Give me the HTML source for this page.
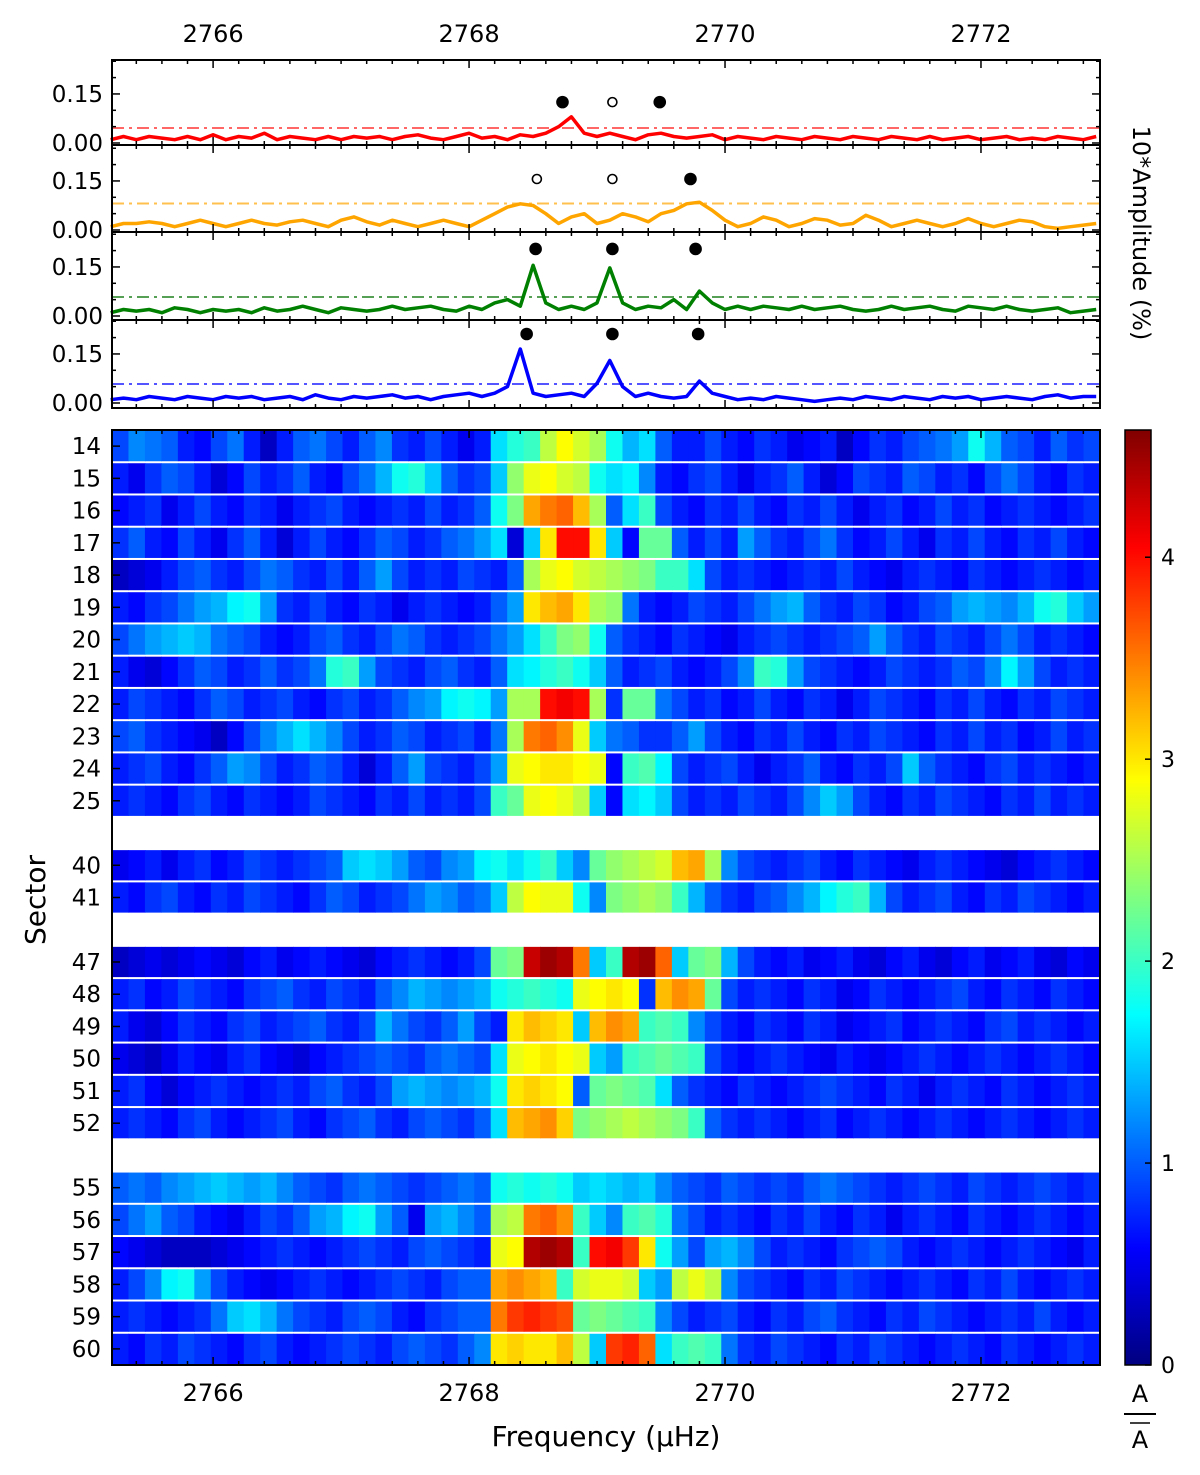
<!DOCTYPE html>
<html><head><meta charset="utf-8"><style>
html,body{margin:0;padding:0;background:#fff;}
svg{display:block;font-family:"DejaVu Sans","Liberation Sans",sans-serif;}
</style></head><body>
<svg id="chart" width="1200" height="1475" viewBox="0 0 1200 1475" xmlns="http://www.w3.org/2000/svg">
<defs>
<linearGradient id="jetGrad" x1="0" y1="1" x2="0" y2="0">
<stop offset="0" stop-color="#000080"/><stop offset="0.125" stop-color="#0000ff"/>
<stop offset="0.375" stop-color="#00ffff"/><stop offset="0.625" stop-color="#ffff00"/><stop offset="0.875" stop-color="#ff0000"/><stop offset="1" stop-color="#800000"/>
</linearGradient>
</defs>
<g id="layer"></g>
</svg>
<script>
// ---- data ----
const freqGrid = [];
for (let i = 0; i < 78; i++) freqGrid.push(+(2765.2 + 0.1 * i).toFixed(2));
const ampRed = [.01,.02,.01,.02,.015,.01,.02,.01,.025,.01, .02,.015,.03,.01,.02,.015,.01,.02,.01,.02, .015,.02,.01,.02,.025,.015,.01,.02,.03,.015, .02,.01,.025,.02,.03,.05,.08,.03,.02,.03, .02,.01,.025,.03,.02,.015,.02,.025,.01,.02, .015,.01,.02,.015,.01,.02,.015,.01,.02,.015, .01,.02,.015,.01,.02,.01,.015,.02,.01,.015, .02,.01,.015,.01,.02,.015,.01,.02];
const ampOrange = [.01,.02,.02,.025,.02,.01,.02,.03,.02,.01, .02,.03,.02,.015,.025,.03,.02,.01,.03,.04, .025,.015,.03,.02,.01,.02,.03,.02,.01,.03, .05,.07,.08,.075,.05,.02,.04,.05,.02,.03, .05,.04,.025,.05,.06,.08,.085,.06,.03,.01, .02,.04,.03,.01,.02,.035,.03,.015,.02,.045, .03,.01,.02,.03,.02,.01,.02,.035,.02,.01, .02,.03,.025,.01,.005,.01,.015,.02];
const ampGreen = [.01,.02,.015,.02,.01,.025,.02,.01,.02,.015, .02,.01,.025,.015,.02,.03,.02,.01,.025,.02, .015,.02,.03,.02,.025,.03,.02,.015,.03,.02, .04,.05,.03,.155,.04,.02,.03,.02,.04,.147, .04,.02,.03,.025,.05,.02,.076,.04,.02,.03, .02,.03,.025,.02,.03,.02,.025,.03,.02,.015, .02,.03,.02,.025,.03,.02,.015,.03,.025,.02, .03,.02,.015,.02,.025,.01,.015,.02];
const ampBlue = [.01,.015,.01,.02,.015,.01,.02,.015,.01,.02, .015,.02,.01,.015,.02,.01,.025,.015,.01,.02, .015,.02,.025,.015,.02,.01,.02,.025,.03,.02, .03,.05,.165,.03,.02,.025,.03,.02,.06,.13, .05,.02,.03,.02,.015,.02,.067,.03,.02,.01, .015,.01,.02,.015,.01,.005,.01,.015,.01,.02, .015,.01,.02,.015,.01,.02,.015,.02,.01,.015, .02,.015,.01,.02,.025,.015,.02,.02];
const thresholds = [0.046, 0.081, 0.058, 0.058];
const markerFreqs = [[2768.73,2769.12,2769.49],[2768.53,2769.12,2769.73],[2768.52,2769.12,2769.77],[2768.45,2769.12,2769.79]];
const markerFilled = [[1,0,1],[0,0,1],[1,1,1],[1,1,1]];
const markerHeights = [0.125, 0.156, 0.205, 0.211];
const xTicks = [2766, 2768, 2770, 2772];
const yTickLabels = ["0.00", "0.15"];
const cbTicks = [0, 1, 2, 3, 4];
const sectors = [14,15,16,17,18,19,20,21,22,23,24,25,40,41,47,48,49,50,51,52,55,56,57,58,59,60];
const sectorSlots = [0,1,2,3,4,5,6,7,8,9,10,11,13,14,16,17,18,19,20,21,23,24,25,26,27,28];
const heat = [
[0.9,1.2,1.1,1.0,0.7,0.6,0.9,1.1,0.7,0.3,0.7,1.0,1.1,0.9,0.7,1.0,1.2,0.8,0.7,0.9,0.7,0.5,0.7,1.6,1.9,2.0,2.6,2.9,2.7,2.5,1.8,1.4,1.6,1.0,0.7,0.7,0.9,0.7,0.6,0.8,0.7,0.5,0.6,0.7,0.3,0.6,0.8,0.7,0.9,1.0,1.1,1.3,1.8,1.4,1.0,0.9,0.7,1.0,0.8,0.9],
[0.7,0.5,0.8,1.0,0.9,0.7,0.4,0.6,0.9,0.7,0.8,1.0,0.7,0.6,0.9,1.1,1.4,1.8,1.9,1.5,1.0,0.8,0.9,1.5,2.4,2.8,2.9,2.7,2.6,1.8,1.6,1.7,1.2,0.7,0.6,0.8,0.9,0.7,0.5,0.7,0.8,1.0,0.7,0.4,0.6,0.9,0.8,0.7,1.0,0.9,0.7,0.8,0.6,0.9,1.1,0.9,0.7,0.6,0.8,0.7],
[0.6,0.7,0.8,0.5,0.7,0.9,0.7,0.6,0.8,0.7,0.5,0.7,0.8,0.9,0.7,0.6,0.7,0.8,0.7,0.9,0.7,0.8,1.0,1.8,2.3,3.3,3.5,3.6,3.2,2.5,1.0,1.6,2.0,0.9,0.7,0.6,0.8,0.7,0.9,0.7,0.6,0.8,0.7,0.9,0.7,0.5,0.7,0.8,0.6,0.7,0.9,0.7,0.8,0.6,0.7,0.8,0.7,0.6,0.7,0.8],
[0.8,1.0,0.7,0.6,0.9,0.7,0.5,0.8,1.0,0.7,0.4,0.7,0.9,0.7,0.6,0.8,1.0,0.9,0.7,0.8,1.0,1.1,1.3,1.6,0.4,1.5,3.0,4.0,4.0,3.0,1.5,0.6,2.2,2.2,1.0,0.7,0.9,0.7,1.3,1.0,0.8,0.7,0.9,1.1,0.8,0.6,0.7,0.9,0.7,0.5,0.8,0.7,0.9,0.7,0.6,0.8,0.7,0.9,0.7,0.6],
[0.3,0.4,0.5,0.7,0.9,1.0,0.8,0.7,0.9,1.1,1.0,0.8,0.7,0.9,0.7,1.0,1.3,0.9,0.7,0.8,0.7,0.9,0.8,0.7,1.0,2.5,2.8,2.9,2.7,2.6,2.5,2.4,2.3,2.0,2.0,1.6,0.9,0.7,0.8,0.7,0.6,0.7,0.8,0.7,0.9,0.7,0.6,0.5,0.7,0.8,0.7,0.6,0.8,0.7,0.6,0.7,0.8,0.7,0.6,0.7],
[0.7,0.6,0.8,0.9,1.1,1.3,1.4,1.7,1.8,1.3,0.8,0.7,0.9,0.7,0.6,0.8,0.7,0.5,0.7,0.8,0.7,0.6,0.7,1.0,1.3,3.0,3.2,3.3,3.0,2.5,2.4,1.1,0.7,0.6,0.7,0.9,0.8,0.7,0.9,1.1,1.3,1.4,1.0,0.8,0.7,0.9,0.8,0.6,0.7,0.9,1.0,1.3,1.4,1.3,1.2,1.4,1.8,1.9,1.5,1.3],
[0.9,1.1,1.3,1.4,1.5,1.4,1.1,1.0,0.9,0.7,0.6,0.7,0.9,1.0,0.8,0.7,0.9,1.1,1.0,0.8,0.7,0.8,0.9,1.1,1.3,1.6,2.0,2.3,2.4,1.8,1.0,0.8,0.7,0.6,0.8,0.7,0.6,0.5,0.7,0.8,0.9,0.8,0.7,0.8,0.9,1.0,1.3,1.0,0.8,0.7,0.9,0.8,0.7,0.9,1.1,0.9,0.7,0.8,0.7,0.6],
[0.7,0.5,0.4,0.6,0.8,1.0,0.9,0.7,0.8,1.0,0.8,0.9,1.1,1.9,2.0,1.3,0.9,0.8,0.7,0.9,1.0,0.8,0.7,1.0,1.6,1.7,1.9,2.0,1.8,1.5,1.0,0.7,0.8,0.9,0.7,0.6,0.7,0.9,1.2,2.0,1.9,1.3,0.9,0.8,0.7,0.6,0.7,0.9,0.8,0.7,0.8,1.0,0.9,1.2,1.7,1.3,0.9,0.7,0.8,0.7],
[0.7,0.9,0.8,0.7,0.6,0.8,1.0,0.9,0.7,0.8,0.9,0.7,0.6,0.8,0.9,0.7,0.8,1.0,1.2,1.3,1.7,1.8,1.7,1.3,2.5,2.5,4.0,4.1,4.0,2.5,0.8,2.2,2.2,1.1,0.9,0.7,0.8,0.6,0.7,0.9,0.7,0.6,0.8,0.7,0.5,0.7,0.9,0.8,0.7,0.6,0.8,0.7,0.9,0.7,0.6,0.8,0.7,0.9,0.8,0.7],
[0.9,1.0,0.8,0.7,0.6,0.5,0.3,0.6,0.9,1.2,1.4,1.6,1.4,1.2,0.9,0.7,0.8,1.0,0.9,0.7,0.8,0.9,0.7,1.1,2.5,3.5,3.6,3.4,2.8,1.5,1.1,1.0,0.8,0.8,1.0,1.3,0.9,0.7,0.6,0.8,0.7,0.9,0.7,0.6,0.8,0.7,0.9,0.8,0.7,0.6,0.8,0.7,0.9,0.7,0.8,0.6,0.7,0.9,0.7,0.8],
[0.7,0.8,0.9,0.7,0.6,0.8,1.0,1.3,1.2,0.9,0.7,0.8,1.0,0.9,0.7,0.4,0.7,1.0,1.3,0.9,0.8,0.7,0.9,1.3,2.8,2.9,3.0,3.0,2.9,2.8,0.6,2.0,2.1,1.7,0.9,0.7,0.8,0.9,0.7,0.5,0.7,0.8,1.0,0.7,0.6,0.8,0.7,0.9,1.5,1.0,0.8,0.7,0.6,0.8,0.9,0.7,0.8,0.7,0.6,0.7],
[0.7,0.8,0.7,0.6,0.8,0.9,0.7,0.6,0.8,0.7,0.6,0.7,0.9,0.8,0.7,0.6,0.8,0.7,0.9,0.7,0.8,0.7,0.9,2.0,2.2,2.8,2.9,2.8,2.6,1.5,0.6,1.6,1.7,1.5,0.9,0.7,0.8,0.7,0.9,0.8,0.7,0.9,1.2,1.5,1.3,0.9,0.7,0.6,0.8,0.7,0.9,0.8,0.7,0.6,0.8,0.7,0.9,0.7,0.8,0.7],
[0.5,0.6,0.7,0.5,0.7,0.8,0.6,0.7,0.9,0.8,0.7,0.8,0.9,1.0,1.5,1.6,1.5,1.3,1.0,0.9,1.2,1.3,1.7,1.8,1.6,1.8,2.0,1.5,1.2,2.2,2.4,2.5,2.6,2.7,3.2,3.3,2.5,1.2,0.9,0.8,0.7,0.8,0.9,0.7,0.6,0.8,0.7,0.6,0.5,0.7,0.8,0.7,0.6,0.5,0.4,0.6,0.7,0.8,0.7,0.6],
[0.7,0.6,0.8,0.9,0.7,0.6,0.8,0.7,0.9,0.8,0.7,0.6,0.8,1.0,0.9,0.7,0.8,0.9,1.1,1.3,1.2,1.0,1.1,1.5,2.6,2.9,2.8,2.8,1.8,1.2,2.3,2.4,2.5,2.4,2.0,1.4,1.0,0.8,0.7,0.9,1.0,1.2,1.4,1.7,1.9,2.0,1.4,0.9,0.7,0.8,0.9,0.7,0.6,0.8,0.7,0.9,0.8,0.7,0.6,0.7],
[0.3,0.4,0.5,0.4,0.5,0.6,0.5,0.4,0.6,0.7,0.5,0.6,0.7,0.6,0.5,0.4,0.6,0.7,0.8,0.7,0.6,0.7,0.9,2.2,2.3,4.3,4.5,4.4,3.5,1.5,2.0,4.4,4.5,3.6,1.5,2.2,2.3,1.4,0.9,0.7,0.6,0.7,0.5,0.6,0.7,0.5,0.4,0.6,0.7,0.5,0.4,0.6,0.7,0.5,0.6,0.7,0.5,0.4,0.6,0.5],
[0.7,0.8,0.6,0.7,0.9,0.8,0.7,0.6,0.8,0.9,1.0,0.8,0.7,0.9,0.8,0.7,1.0,1.2,1.4,1.3,1.2,1.3,1.4,1.8,1.9,2.0,1.9,1.8,2.8,2.9,3.0,2.9,0.8,3.2,3.4,3.3,2.2,0.9,0.7,0.8,0.7,0.6,0.8,0.7,0.5,0.6,0.8,0.7,0.6,0.7,0.8,0.9,0.7,0.6,0.8,0.7,0.6,0.8,0.7,0.6],
[0.7,0.5,0.4,0.6,0.8,0.7,0.6,0.8,0.9,0.7,0.8,0.9,1.0,0.8,0.7,0.9,1.4,1.1,0.9,0.8,1.0,1.3,0.9,0.7,3.0,3.2,3.1,3.0,1.5,3.2,3.4,3.3,2.0,2.1,2.0,1.2,0.9,0.7,0.6,0.8,0.7,0.6,0.8,0.7,0.5,0.6,0.7,0.8,0.6,0.7,0.8,0.7,0.6,0.8,0.9,0.7,0.8,0.7,0.6,0.7],
[0.5,0.4,0.3,0.5,0.7,0.6,0.5,0.7,0.8,0.6,0.5,0.4,0.6,0.7,0.8,0.9,1.0,0.9,0.8,1.0,1.1,1.0,0.9,1.6,2.8,2.9,3.0,2.9,2.8,1.5,1.3,2.0,2.1,2.2,2.1,2.0,0.9,0.7,0.6,0.7,0.8,0.7,0.6,0.5,0.7,0.6,0.5,0.6,0.7,0.8,0.7,0.6,0.7,0.8,0.7,0.6,0.7,0.8,0.7,0.6],
[0.7,0.8,0.6,0.4,0.6,0.7,0.8,0.7,0.6,0.7,0.8,0.7,0.9,1.0,0.8,0.7,0.9,1.3,1.4,1.3,1.2,1.3,1.4,1.8,3.0,3.1,3.0,2.9,1.0,2.2,2.3,2.2,2.1,1.6,1.0,0.8,0.7,0.6,0.8,0.7,0.6,0.7,0.8,0.9,0.8,0.7,0.6,0.8,0.7,0.5,0.7,0.8,0.7,0.6,0.8,0.7,0.6,0.7,0.8,0.7],
[0.7,0.8,0.7,0.6,0.8,0.9,0.7,0.6,0.7,0.8,0.9,0.7,0.6,0.8,0.9,1.0,0.8,0.7,0.9,1.0,0.9,0.8,1.0,1.6,3.2,3.3,3.4,3.1,2.3,2.4,2.5,2.6,2.5,2.4,2.3,2.0,1.0,0.8,0.7,0.8,0.7,0.6,0.7,0.8,0.6,0.7,0.8,0.7,0.6,0.7,0.8,0.7,0.6,0.7,0.8,0.7,0.6,0.7,0.8,0.7],
[1.0,1.1,1.0,1.2,1.3,1.4,1.5,1.4,1.3,1.4,1.2,1.0,0.9,0.8,1.0,1.1,1.0,0.9,0.8,0.9,1.0,1.1,1.0,1.8,1.9,1.8,1.9,1.8,1.5,1.6,1.5,1.4,1.5,1.2,1.0,0.9,0.8,1.0,0.9,0.8,0.9,0.8,1.0,1.1,1.0,0.9,0.8,0.7,0.8,0.9,0.8,0.7,0.9,0.8,0.7,0.8,0.9,0.8,0.7,0.8],
[0.9,1.1,1.3,1.0,0.9,0.7,0.6,0.5,0.7,0.9,0.8,1.0,1.3,1.4,1.7,1.8,1.3,1.0,0.5,1.3,1.4,1.2,1.0,2.5,2.6,3.5,3.6,3.4,2.0,1.5,1.2,2.0,2.1,1.9,1.1,0.9,0.7,0.8,0.7,0.6,0.8,0.7,0.9,0.7,0.6,0.8,0.7,0.5,0.7,0.8,0.7,0.6,0.8,0.7,0.6,0.7,0.8,0.7,0.6,0.7],
[0.6,0.5,0.4,0.3,0.3,0.3,0.4,0.5,0.6,0.7,0.8,0.7,0.6,0.7,0.8,0.9,0.8,0.7,0.9,1.0,0.9,0.8,0.7,2.8,2.9,4.4,4.5,4.4,2.0,4.0,4.1,3.8,3.0,1.8,1.3,0.9,1.3,1.4,1.2,0.9,0.7,0.8,0.7,0.6,0.8,0.9,1.0,0.9,0.7,0.6,0.7,0.8,0.7,0.6,0.7,0.8,0.7,0.6,0.5,0.7],
[0.7,0.9,1.2,1.7,1.8,1.3,0.9,0.7,0.6,0.5,0.6,0.7,0.8,0.7,0.6,0.7,0.8,0.9,0.8,0.7,0.9,1.0,1.0,3.3,3.4,3.3,3.2,2.0,2.7,2.8,2.8,2.7,1.5,1.3,2.6,2.8,2.6,1.2,0.9,0.8,0.7,0.6,0.8,0.7,0.9,0.8,0.7,0.6,0.7,0.8,0.7,0.6,0.8,0.7,0.9,0.7,0.6,0.7,0.8,0.7],
[0.7,0.8,0.7,0.6,0.7,0.8,1.1,1.5,1.6,1.4,1.1,0.9,0.8,0.7,0.9,1.0,0.9,0.7,0.6,0.8,0.9,1.0,1.0,3.5,3.8,3.9,3.8,3.7,2.2,2.3,2.2,2.1,2.0,1.2,0.9,0.7,0.8,0.9,0.7,0.6,0.8,0.7,0.9,1.0,0.8,0.7,0.6,0.8,0.7,0.9,0.8,0.7,0.6,0.7,0.8,0.7,0.9,0.7,0.6,0.7],
[0.7,0.6,0.8,0.7,0.9,0.8,0.7,0.6,0.8,0.9,0.7,0.6,0.7,0.8,0.9,0.8,0.7,0.9,1.0,0.9,0.8,1.0,1.2,3.0,3.1,3.0,3.0,3.2,2.6,1.5,3.8,3.9,3.6,1.6,2.0,2.1,2.0,1.1,0.8,0.7,0.9,0.8,0.7,0.6,0.8,0.7,0.9,0.8,0.7,0.6,0.7,0.8,0.7,0.6,0.8,0.7,0.6,0.7,0.8,0.7]
];

// ---- geometry ----
const NS = "http://www.w3.org/2000/svg";
const layer = document.getElementById("layer");
const X0 = 112, X1 = 1100, F0 = 2765.21, F1 = 2772.93;
const xPix = f => X0 + (f - F0) / (F1 - F0) * (X1 - X0);
const panels = [
  {top:60, bot:145, y0:143, color:"#ff0000", thr:"#ff6666", name:"red"},
  {top:145, bot:232, y0:230, color:"#ffa500", thr:"#ffc04d", name:"orange"},
  {top:232, bot:320, y0:316, color:"#008000", thr:"#55a055", name:"green"},
  {top:320, bot:408, y0:403, color:"#0000ff", thr:"#5555ff", name:"blue"}
];
const series = [ampRed, ampOrange, ampGreen, ampBlue];
const YS = 327;
const HM_TOP = 430, HM_BOT = 1365, SLOTS = 29;
const CB_X = 1125, CB_W = 26, CB_MAX = 4.63;

function mk(tag, attrs, parent) {
  const e = document.createElementNS(NS, tag);
  for (const k in attrs) e.setAttribute(k, attrs[k]);
  (parent || layer).appendChild(e);
  return e;
}
function txt(s, x, y, size, anchor, parent) {
  const t = mk("text", {x:x, y:y, "font-size":size, "text-anchor":anchor || "middle", fill:"#000"}, parent);
  t.textContent = s;
  return t;
}
function jet(v) {
  let t = Math.max(0, Math.min(1, v / CB_MAX));
  const c = x => Math.max(0, Math.min(1, x));
  const r = c(1.5 - Math.abs(4 * t - 3)), g = c(1.5 - Math.abs(4 * t - 2)), b = c(1.5 - Math.abs(4 * t - 1));
  return "rgb(" + Math.round(r*255) + "," + Math.round(g*255) + "," + Math.round(b*255) + ")";
}

// ---- top panels ----
panels.forEach((p, k) => {
  const g = mk("g", {});
  
  
  const yv = v => p.y0 - v * YS;
  const th = mk("line", {x1:X0, x2:X1, y1:yv(thresholds[k]), y2:yv(thresholds[k]), stroke:p.thr, "stroke-width":2, "stroke-dasharray":"12,5,3,5"}, g);
  
  
  const pts = series[k].map((v, i) => xPix(freqGrid[i]).toFixed(1) + "," + yv(v).toFixed(1)).join(" ");
  const pl = mk("polyline", {points:pts, fill:"none", stroke:p.color, "stroke-width":3.5, "stroke-linejoin":"round"}, g);
  
  
  markerFreqs[k].forEach((f, j) => {
    const m = mk("circle", {cx:xPix(f), cy:yv(markerHeights[k]), r: markerFilled[k][j] ? 5.5 : 4.5,
      fill: markerFilled[k][j] ? "#000" : "#fff", stroke:"#000", "stroke-width":1.6}, g);
    
    
  });
  mk("rect", {x:X0, y:p.top, width:X1 - X0, height:p.bot - p.top, fill:"none", stroke:"#000", "stroke-width":2}, g);
  for (let f = 2765.4; f < F1; f += 0.2) {
    const fr = Math.round(f * 10) / 10;
    const major = Math.abs(fr / 2 - Math.round(fr / 2)) < 1e-6;
    const L = major ? 8 : 4;
    mk("line", {x1:xPix(fr), x2:xPix(fr), y1:p.top, y2:p.top + L, stroke:"#000", "stroke-width":1.5}, g);
    mk("line", {x1:xPix(fr), x2:xPix(fr), y1:p.bot, y2:p.bot - L, stroke:"#000", "stroke-width":1.5}, g);
  }
  for (let v = 0; v <= 0.25; v += 0.05) {
    const y = yv(v);
    if (y < p.top + 1) break;
    const major = (Math.round(v * 100) % 15 === 0);
    mk("line", {x1:X0, x2:X0 + (major ? 8 : 4), y1:y, y2:y, stroke:"#000", "stroke-width":1.5}, g);
    mk("line", {x1:X1, x2:X1 - (major ? 8 : 4), y1:y, y2:y, stroke:"#000", "stroke-width":1.5}, g);
  }
  yTickLabels.forEach(s => txt(s, 103, yv(parseFloat(s)) + 8, 23, "end", g));
});
xTicks.forEach(f => {
  const t = txt(String(f), xPix(f), 42, 24);
  
  
});
{
  const t = txt("10*Amplitude (%)", 0, 0, 24);
  t.setAttribute("transform", "translate(1133,233) rotate(90)");
  
  
}

// ---- heatmap ----
const hm = mk("g", {});


const slotH = (HM_BOT - HM_TOP) / SLOTS;
const nCol = heat[0].length;
const colW = (X1 - X0) / nCol;
heat.forEach((row, r) => {
  const yTop = HM_TOP + sectorSlots[r] * slotH;
  row.forEach((v, c) => {
    const cell = mk("rect", {x:(X0 + c * colW).toFixed(2), y:(yTop + 1).toFixed(2), width:(colW + 0.6).toFixed(2), height:(slotH - 2).toFixed(2), fill:jet(v)}, hm);
    
    
  });
  const lab = txt(String(sectors[r]), 101, yTop + slotH / 2 + 8, 23, "end", hm);
  
  
  mk("line", {x1:X0, x2:X0 + 8, y1:yTop + slotH / 2, y2:yTop + slotH / 2, stroke:"#000", "stroke-width":1.5}, hm);
});
mk("rect", {x:X0, y:HM_TOP, width:X1 - X0, height:HM_BOT - HM_TOP, fill:"none", stroke:"#000", "stroke-width":2}, hm);
for (let f = 2765.4; f < F1; f += 0.2) {
  const fr = Math.round(f * 10) / 10;
  const major = Math.abs(fr / 2 - Math.round(fr / 2)) < 1e-6;
  const L = major ? 8 : 4;
  mk("line", {x1:xPix(fr), x2:xPix(fr), y1:HM_BOT, y2:HM_BOT - L, stroke:"#000", "stroke-width":1.5}, hm);
  mk("line", {x1:xPix(fr), x2:xPix(fr), y1:HM_TOP, y2:HM_TOP + L, stroke:"#000", "stroke-width":1.5}, hm);
}
xTicks.forEach(f => {
  const t = txt(String(f), xPix(f), 1401, 24);
  
  
});
{
  const t = txt("Frequency (\u00B5Hz)", 606, 1446, 28);
  
  
  const s = txt("Sector", 0, 0, 28);
  s.setAttribute("transform", "translate(45,900) rotate(-90)");
  
  
}

// ---- colorbar ----
const cb = mk("g", {});


mk("rect", {x:CB_X, y:HM_TOP, width:CB_W, height:HM_BOT - HM_TOP, fill:"url(#jetGrad)", stroke:"#000", "stroke-width":1.5}, cb);
cbTicks.forEach(v => {
  const y = HM_BOT - v / CB_MAX * (HM_BOT - HM_TOP);
  mk("line", {x1:CB_X + CB_W - 6, x2:CB_X + CB_W, y1:y, y2:y, stroke:"#000", "stroke-width":1.5}, cb);
  const t = txt(String(v), CB_X + CB_W + 10, y + 8, 22, "start", cb);
  
  
});
{
  const a1 = txt("A", 1140, 1402, 24, "middle", cb);
  
  
  mk("line", {x1:1124, x2:1156, y1:1414, y2:1414, stroke:"#000", "stroke-width":2}, cb);
  const a2 = txt("A", 1140, 1448, 24, "middle", cb);
  
  
  mk("line", {x1:1130, x2:1150, y1:1423, y2:1423, stroke:"#000", "stroke-width":1.5}, cb);
}
</script>
</body></html>
